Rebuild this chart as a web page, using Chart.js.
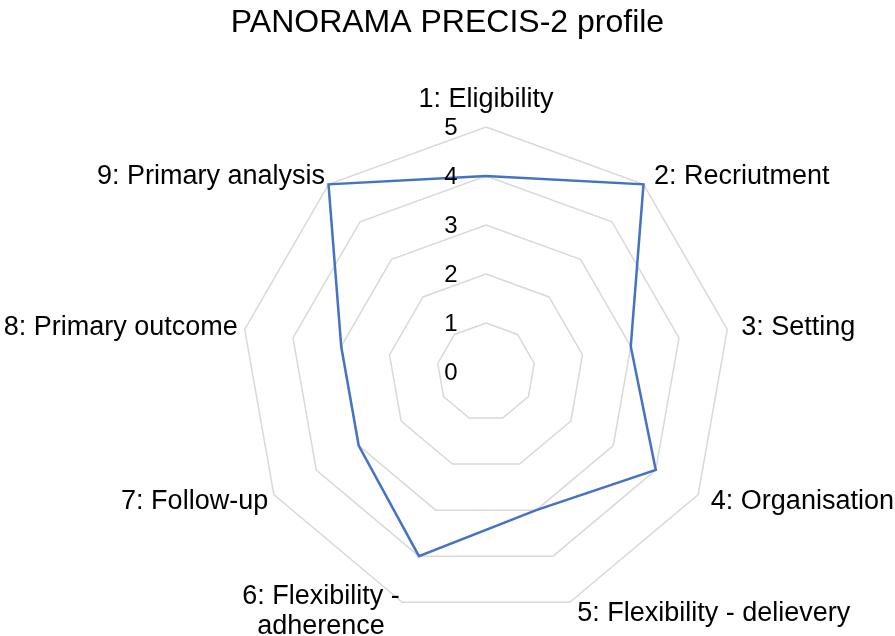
<!DOCTYPE html>
<html>
<head>
<meta charset="utf-8">
<script src="https://cdn.jsdelivr.net/npm/chart.js@4.4.0/dist/chart.umd.min.js"></script>
<style>
  html, body { margin: 0; padding: 0; background: #fff; }
  #wrap { width: 895px; height: 636px; }
</style>
</head>
<body>
<div id="wrap"><canvas id="myChart" width="895" height="636"></canvas></div>
<script>
var categories = [
    '1: Eligibility',
    '2: Recriutment',
    '3: Setting',
    '4: Organisation',
    '5: Flexibility - delievery',
    ['6: Flexibility -', 'adherence'],
    '7: Follow-up',
    '8: Primary outcome',
    '9: Primary analysis'
];
var scores = [4, 5, 3, 4, 3, 4, 3, 3, 5];
var tickValues = [0, 1, 2, 3, 4, 5];

var FONT = '"Liberation Sans", Arial, sans-serif';

// Excel style labels: ticks left of the vertical axis, category names
// vertically centred on the outer vertex
var labelPlugin = {
    id: 'excelLabels',
    afterDraw: function (chart) {
        var scale = chart.scales.r;
        var ctx = chart.ctx;
        ctx.save();
        ctx.fillStyle = '#000';

        ctx.font = '24px ' + FONT;
        ctx.textAlign = 'center';
        ctx.textBaseline = 'middle';
        tickValues.forEach(function (v) {
            var d = scale.getDistanceFromCenterForValue(v);
            ctx.fillText(String(v), scale.xCenter - 35, scale.yCenter - d + 1);
        });

        ctx.font = '27px ' + FONT;
        var lineH = 30;
        categories.forEach(function (label, i) {
            var lines = Array.isArray(label) ? label : [label];
            var pos = scale.getPointPosition(i, scale.drawingArea + 10);
            var deg = (360 / categories.length) * i;
            var maxW = 0;
            lines.forEach(function (l) { maxW = Math.max(maxW, ctx.measureText(l).width); });
            var cx, cy = pos.y + (deg > 90 && deg < 270 && lines.length === 1 ? 2 : 0);
            if (deg === 0) {
                cx = pos.x;
                cy = pos.y - 2 - lineH * lines.length / 2;
            } else if (deg < 180) {
                cx = pos.x + 4 + maxW / 2;
            } else if (lines.length > 1) {
                cx = pos.x + 1 - maxW / 2;
            } else {
                cx = pos.x + 3 - maxW / 2;
            }
            ctx.textAlign = 'center';
            ctx.textBaseline = 'middle';
            lines.forEach(function (l, k) {
                ctx.fillText(l, cx, cy + (k - (lines.length - 1) / 2) * lineH);
            });
        });
        ctx.restore();
    }
};

var ctx = document.getElementById('myChart').getContext('2d');
var myChart = new Chart(ctx, {
    type: 'radar',
    data: {
        labels: categories,
        datasets: [{
            data: scores,
            borderColor: '#4472C4',
            borderWidth: 2.5,
            backgroundColor: 'transparent',
            fill: false,
            pointRadius: 0,
            tension: 0
        }]
    },
    options: {
        responsive: false,
        animation: false,
        plugins: {
            legend: { display: false },
            tooltip: { enabled: false },
            title: {
                display: true,
                text: 'PANORAMA PRECIS-2 profile',
                color: '#000',
                font: { family: FONT, size: 32, weight: 'normal' },
                padding: { top: 4, bottom: 10 }
            }
        },
        scales: {
            r: {
                min: 0,
                max: 5,
                ticks: { stepSize: 1, display: false },
                angleLines: { display: false },
                grid: { color: '#d9d9d9', lineWidth: 1.5 },
                pointLabels: { display: false },
                // keep the plot where the original sits
                afterSetDimensions: function (scale) {
                    scale.xCenter = 486;
                    scale.yCenter = 372;
                    scale.drawingArea = 245;
                }
            }
        }
    },
    plugins: [labelPlugin]
});
</script>
</body>
</html>
